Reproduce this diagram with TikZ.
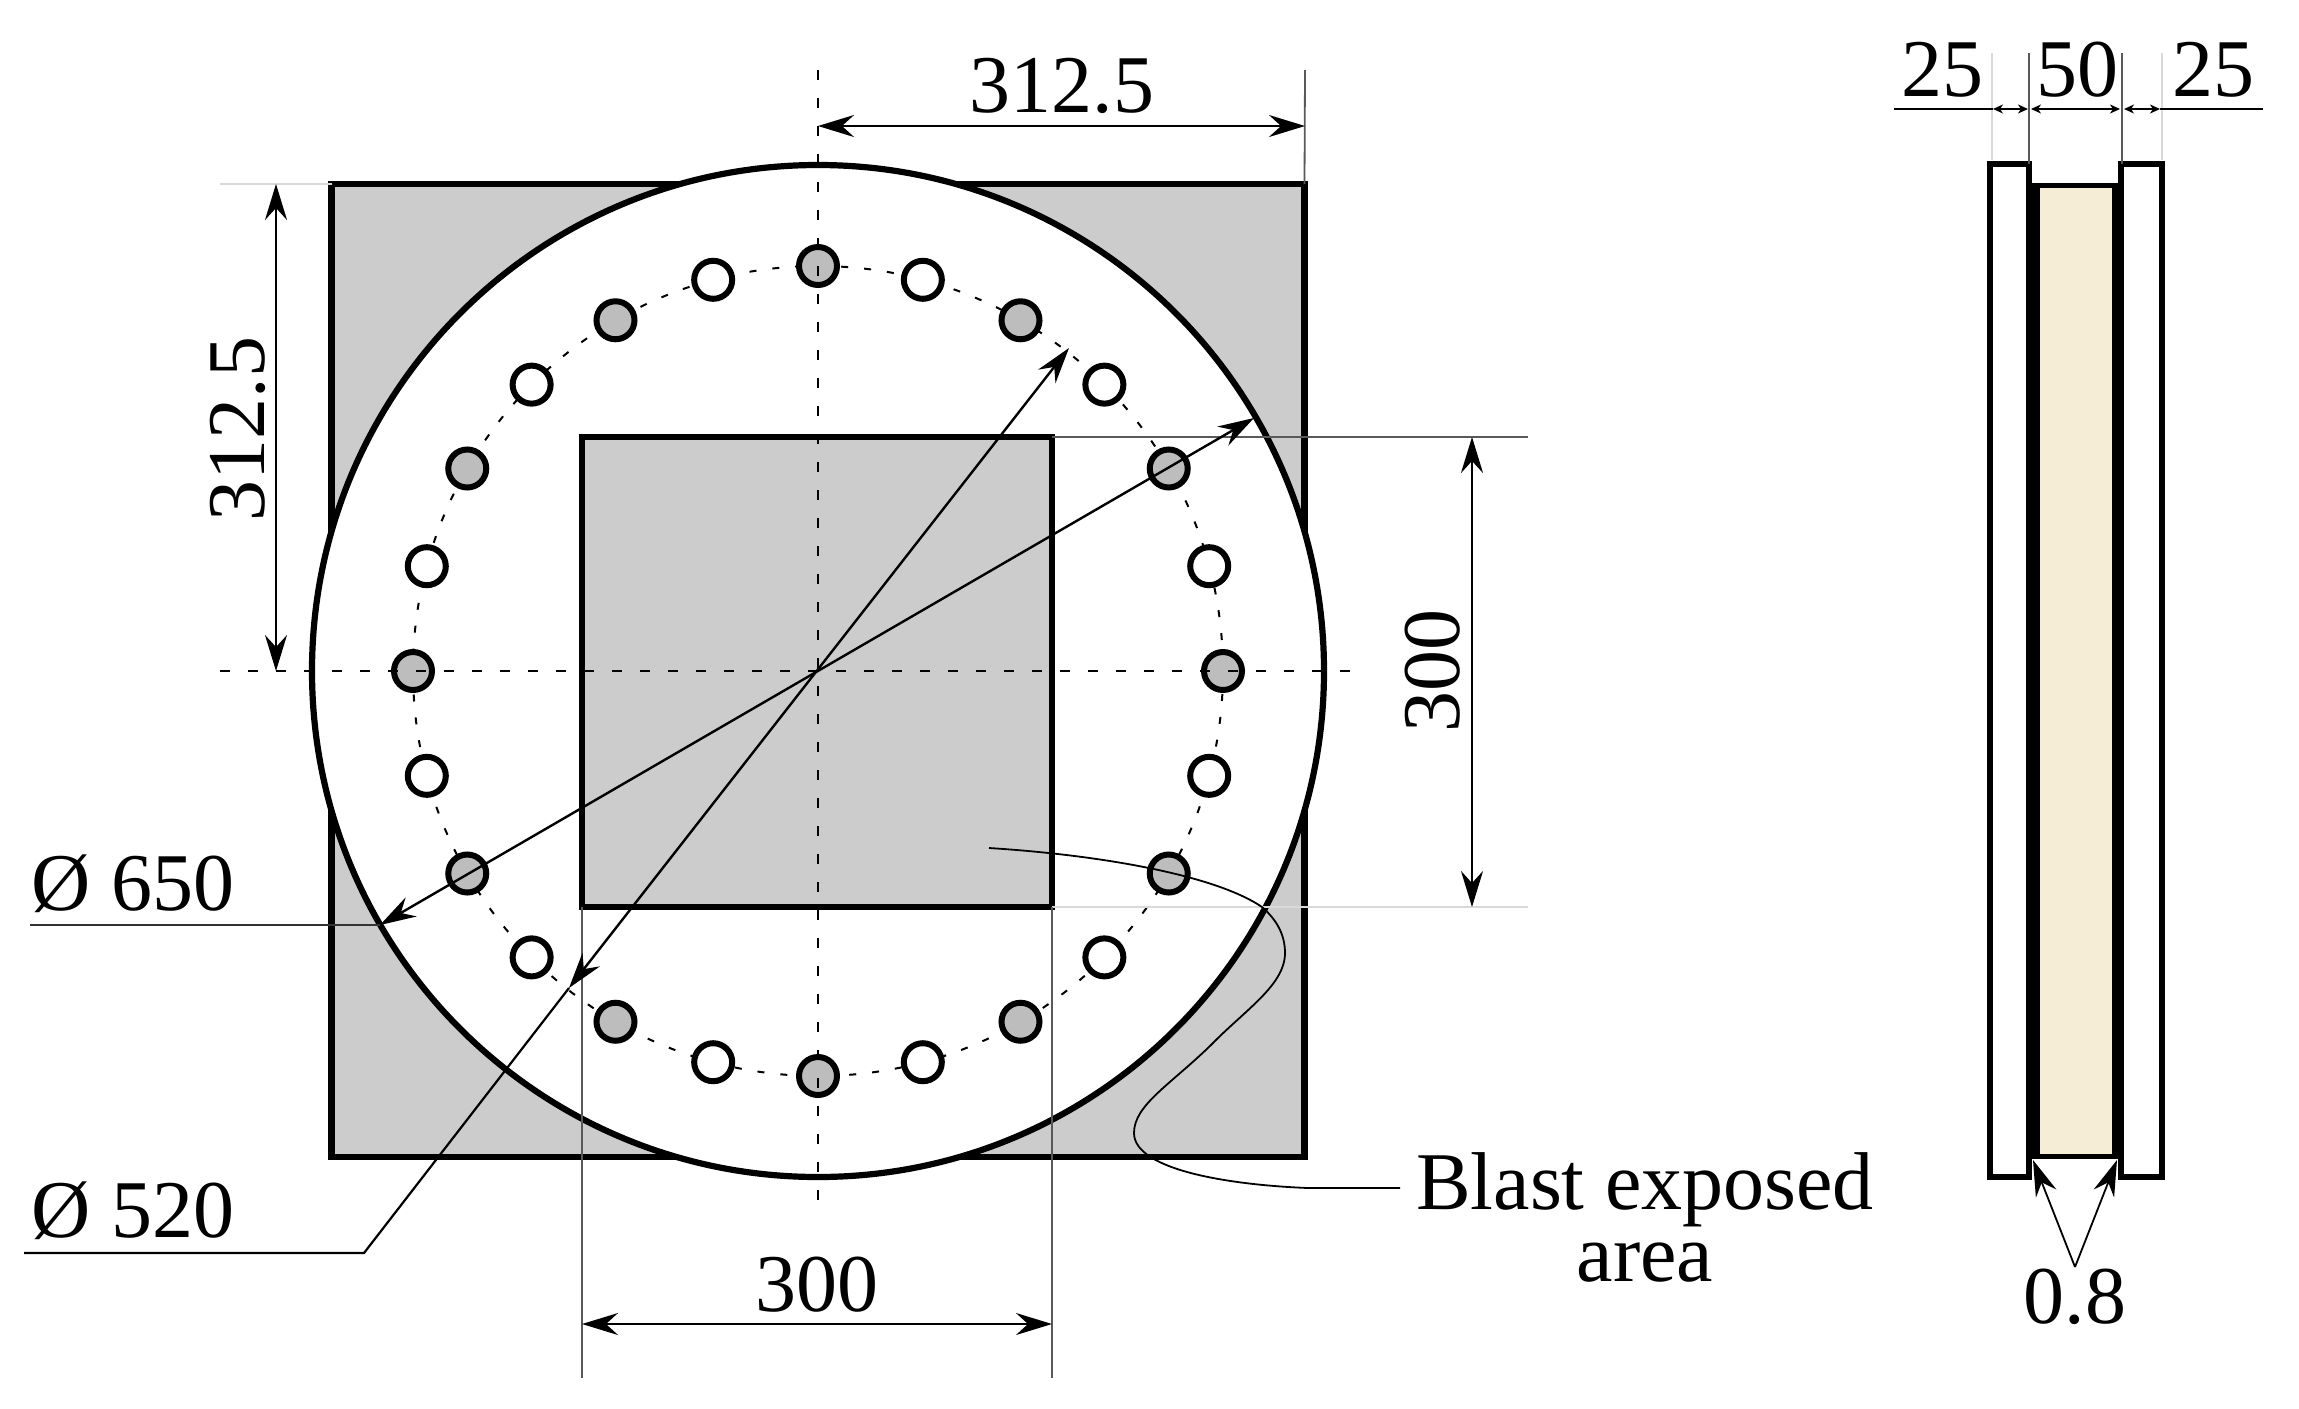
\documentclass[tikz,border=0pt]{standalone}
\usepackage{fontspec}
\setmainfont{Liberation Serif}
\usepackage{xcolor}
\usepackage{tikz}
\usetikzlibrary{arrows.meta}

\definecolor{platefill}{HTML}{CCCCCC}
\definecolor{boltfill}{HTML}{BDBDBD}
\definecolor{corefill}{HTML}{F5EDD6}

\begin{document}
\begin{tikzpicture}[x=.5pt, y=-.5pt,
  >={Stealth[length=18pt,width=11pt,inset=6pt]},
  sq/.style={rectangle, draw, fill=platefill, line width=3.3pt, inner sep=0, outer sep=0},
  hole/.style={circle, draw, line width=3pt, inner sep=0, minimum size=19pt},
  dim/.style={<->, line width=1.2pt},
  tiny/.style={<->, line width=.8pt, >={Stealth[length=5pt,width=4.5pt,inset=1.5pt]}},
  ext/.style={line width=.9pt, black!65},
  faint/.style={line width=.7pt, black!15},
  axis/.style={line width=1.1pt, dash pattern=on 5pt off 9pt},
  txt/.style={font=\fontsize{41}{36}\selectfont, inner sep=0, align=center}]

\useasboundingbox (0,0) rectangle (2299,1409);

\coordinate (c) at (818,671);

\node [sq, minimum size=486.5pt] (plate) at (818,670.5) {};
\node [circle, draw, fill=white, line width=3.1pt, inner sep=0, outer sep=0, minimum size=506pt] (disc) at (c) {};
\node [sq, minimum size=235pt] (win) at (817,672) {};

\draw [line width=1pt, dash pattern=on 3.5pt off 8pt] (c) circle (405);
\foreach \a in {0,30,...,330}
  \node [hole, fill=boltfill] (g\a) at ([shift={(\a:405)}]c) {};
\foreach \a in {15,45,...,345}
  \node [hole, fill=white] (w\a) at ([shift={(\a:405)}]c) {};

\coordinate (vt) at (818,70);
\coordinate (vb) at (818,1202);
\coordinate (hl) at (220,671);
\coordinate (hr) at (1356,671);
\draw [axis] (vt) -- (vb);
\draw [axis] (hl) -- (hr);

\coordinate (t0) at (818,126);
\coordinate (t1) at (1305,126);
\coordinate (t2) at (1305,70);
\draw [ext] (plate.north east) -- (t2);
\draw [dim] (t0) -- (t1);
\node [txt] (ltop) at (1062,86) {312.5};

\coordinate (l0) at (276,671);
\coordinate (l1) at (276,184);
\coordinate (l2) at (220,184);
\draw [faint] (plate.north west) -- (l2);
\draw [dim] (l0) -- (l1);
\node [txt, rotate=90] (lleft) at (238,429) {312.5};

\coordinate (r0) at (1472,437);
\coordinate (r1) at (1472,907);
\coordinate (r2) at (1528,437);
\coordinate (r3) at (1528,907);
\draw [ext] (win.north east) -- (r2);
\draw [faint] (win.south east) -- (r3);
\draw [dim] (r0) -- (r1);
\node [txt, rotate=90] (lright) at (1433,671) {300};

\coordinate (b0) at (582,1324);
\coordinate (b1) at (1052,1324);
\coordinate (b2) at (582,1378);
\coordinate (b3) at (1052,1378);
\draw [ext] (win.south west) -- (b2);
\draw [ext] (win.south east) -- (b3);
\draw [dim] (b0) -- (b1);
\node [txt] (lbot) at (817,1285) {300};

\coordinate (a0) at (1254,418);
\coordinate (a1) at (380,925);
\coordinate (a2) at (30,925);
\draw [dim] (a0) -- (a1);
\draw [ext, black!80] (a1) -- (a2);
\node [txt, anchor=base] (d650) at (133,910) {Ø 650};

\coordinate (e0) at (1069,348);
\coordinate (e1) at (569,988);
\coordinate (e2) at (364,1253);
\coordinate (e3) at (24,1253);
\draw [dim] (e0) -- (e1);
\draw [line width=1.1pt] (e1) -- (e2) -- (e3);
\node [txt, anchor=base] (d520) at (133,1237) {Ø 520};

\node [txt] (blast) at (1645,1217) {Blast exposed\\area};
\coordinate (p0) at (989,848);
\coordinate (p1) at (1400,1188);
\draw [line width=.9pt] (p0) .. controls (1100,855) and (1215,875) .. (1262,907)
  .. controls (1277,920) and (1285,935) .. (1285,953)
  .. controls (1285,985) and (1245,1010) .. (1211,1045)
  .. controls (1170,1085) and (1134,1105) .. (1134,1133)
  .. controls (1134,1170) and (1230,1185) .. (1308,1188) -- (p1);

\draw [line width=3pt, fill=white] (1990,164) rectangle (2029,1177);
\draw [line width=3pt, fill=white] (2121,164) rectangle (2162,1177);
\draw [line width=2.5pt, fill=corefill] (2029,185) rectangle (2121,1156);
\fill (2029,185) rectangle (2040,1156);
\fill (2112,185) rectangle (2121,1156);

\coordinate (s0) at (1992,53);
\coordinate (s1) at (2029,53);
\coordinate (s2) at (2122,53);
\coordinate (s3) at (2162,53);
\draw [faint] (s0) -- (1992,160);
\draw [ext] (s1) -- (2029,164);
\draw [ext] (s2) -- (2122,164);
\draw [faint] (s3) -- (2162,160);

\coordinate (m0) at (1894,109);
\coordinate (m1) at (1993,109);
\coordinate (m2) at (2028,109);
\coordinate (m3) at (2031,109);
\coordinate (m4) at (2120,109);
\coordinate (m5) at (2124,109);
\coordinate (m6) at (2160,109);
\coordinate (m7) at (2263,109);
\draw [line width=1.1pt] (m0) -- (m1);
\draw [tiny] (m1) -- (m2);
\draw [tiny] (m3) -- (m4);
\draw [tiny] (m5) -- (m6);
\draw [line width=1.1pt] (m6) -- (m7);

\node [txt] (q0) at (1942,70) {25};
\node [txt] (q1) at (2077,70) {50};
\node [txt] (q2) at (2213,70) {25};

\node [txt] (thk) at (2075,1297) {0.8};
\coordinate (f0) at (2075,1267);
\coordinate (f1) at (2033,1160);
\coordinate (f2) at (2117,1160);
\draw [->, line width=.9pt] (f0) -- (f1);
\draw [->, line width=.9pt] (f0) -- (f2);
\end{tikzpicture}
\end{document}
